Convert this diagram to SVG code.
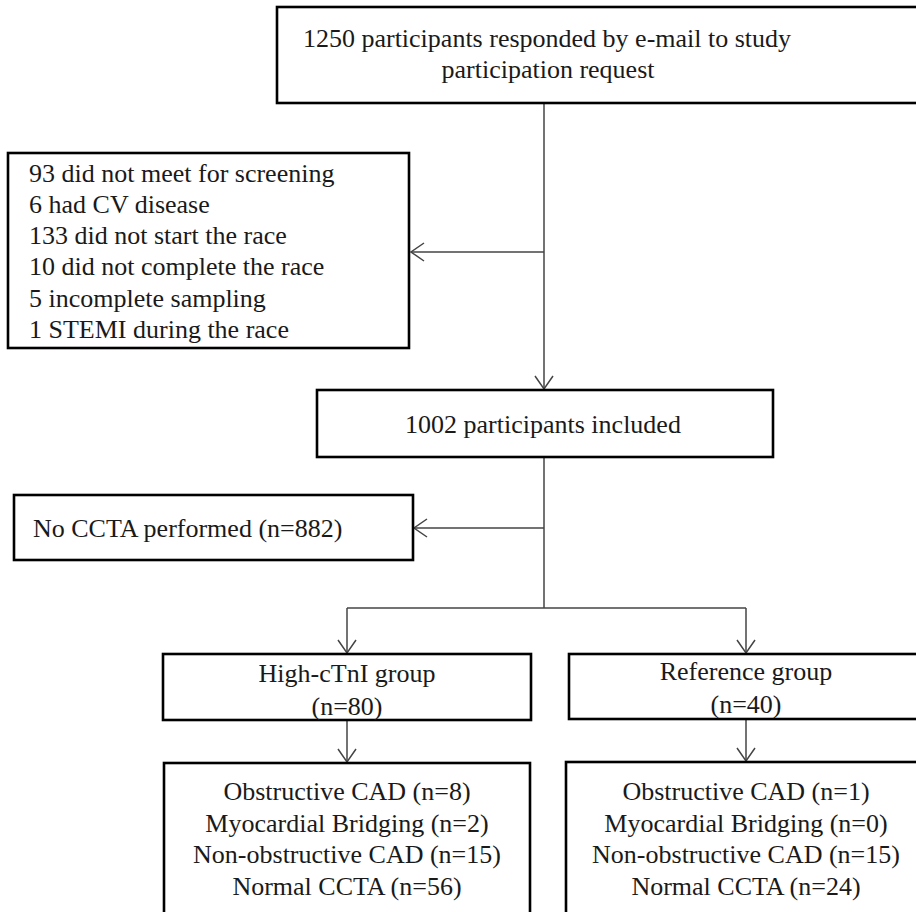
<svg xmlns="http://www.w3.org/2000/svg" width="916" height="912" viewBox="0 0 916 912">
<defs>
<style>
.box{fill:#fff;stroke:#000;stroke-width:2.6}
.t{font-family:"Liberation Serif","Times New Roman",serif;font-size:26px;fill:#1a1a1a}
.m{text-anchor:middle}
.c{fill:none;stroke:#444;stroke-width:1.5}
</style>
<marker id="arr" markerUnits="userSpaceOnUse" markerWidth="30" markerHeight="30" viewBox="-15 -15 30 30" refX="0" refY="0" orient="auto">
<path d="M-13,-9 L0,0 L-13,9" fill="none" stroke="#444" stroke-width="1.5"/>
</marker>
</defs>
<g id="connectors">
<line class="c" x1="544" y1="103" x2="544" y2="389" marker-end="url(#arr)"/>
<line class="c" x1="544" y1="252" x2="411" y2="252" marker-end="url(#arr)"/>
<line class="c" x1="544" y1="457" x2="544" y2="608"/>
<line class="c" x1="544" y1="528" x2="414" y2="528" marker-end="url(#arr)"/>
<line class="c" x1="347" y1="608" x2="746" y2="608"/>
<line class="c" x1="347" y1="608" x2="347" y2="653" marker-end="url(#arr)"/>
<line class="c" x1="746" y1="608" x2="746" y2="653" marker-end="url(#arr)"/>
<line class="c" x1="347" y1="720" x2="347" y2="762" marker-end="url(#arr)"/>
<line class="c" x1="746" y1="719" x2="746" y2="761" marker-end="url(#arr)"/>
</g>
<g id="n-top">
<rect class="box" x="277" y="7" width="660" height="96"/>
<text class="t m" x="547" y="47">1250 participants responded  by e-mail to study</text>
<text class="t m" x="548" y="78">participation request</text>
</g>
<g id="n-excluded">
<rect class="box" x="8" y="153" width="401" height="195"/>
<text class="t" x="29" y="182">93 did not meet for screening</text>
<text class="t" x="29" y="213">6 had CV disease</text>
<text class="t" x="29" y="244">133 did not start the race</text>
<text class="t" x="29" y="275">10 did not complete the race</text>
<text class="t" x="29" y="307">5 incomplete sampling</text>
<text class="t" x="29" y="338">1 STEMI during the race</text>
</g>
<g id="n-included">
<rect class="box" x="317" y="390" width="456" height="67"/>
<text class="t m" x="543" y="433">1002 participants included</text>
</g>
<g id="n-noccta">
<rect class="box" x="14" y="495" width="399" height="65"/>
<text class="t" x="33" y="537">No CCTA performed (n=882)</text>
</g>
<g id="n-high">
<rect class="box" x="163" y="654" width="368" height="66"/>
<text class="t m" x="347" y="682">High-cTnI  group</text>
<text class="t m" x="347" y="715">(n=80)</text>
</g>
<g id="n-ref">
<rect class="box" x="569" y="654" width="360" height="65"/>
<text class="t m" x="746" y="680">Reference  group</text>
<text class="t m" x="746" y="713">(n=40)</text>
</g>
<g id="n-high-res">
<rect class="box" x="164" y="763" width="366" height="170"/>
<text class="t m" x="347" y="800">Obstructive CAD (n=8)</text>
<text class="t m" x="347" y="832">Myocardial  Bridging (n=2)</text>
<text class="t m" x="347" y="863">Non-obstructive CAD (n=15)</text>
<text class="t m" x="347" y="895">Normal CCTA (n=56)</text>
</g>
<g id="n-ref-res">
<rect class="box" x="566" y="762" width="370" height="170"/>
<text class="t m" x="746" y="800">Obstructive CAD (n=1)</text>
<text class="t m" x="746" y="832">Myocardial  Bridging (n=0)</text>
<text class="t m" x="746" y="863">Non-obstructive CAD (n=15)</text>
<text class="t m" x="746" y="895">Normal CCTA (n=24)</text>
</g>
</svg>
